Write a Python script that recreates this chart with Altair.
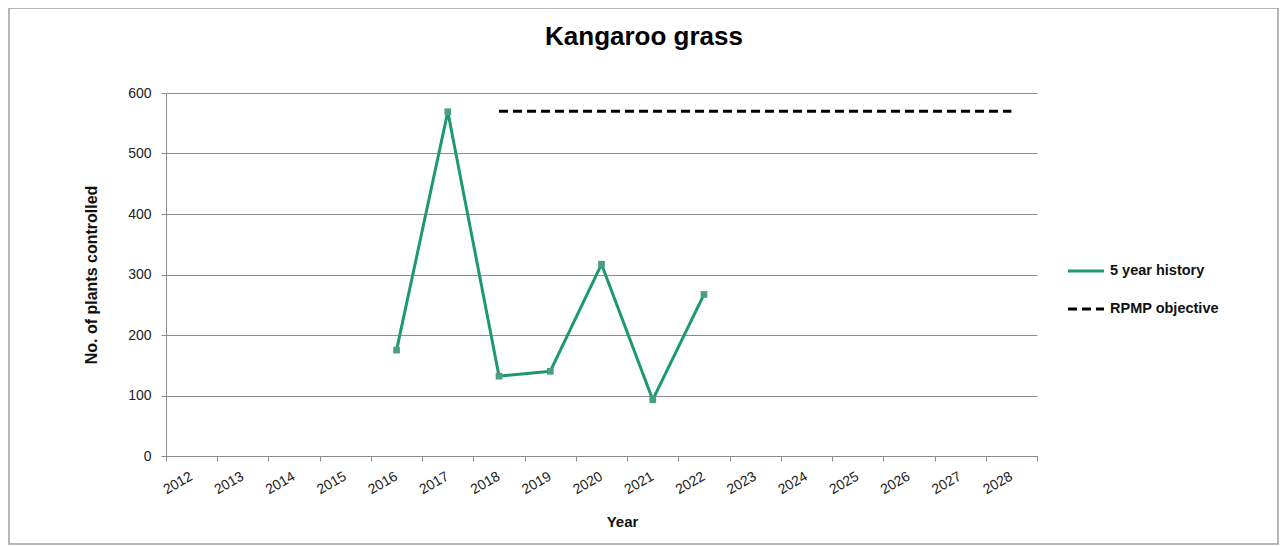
import altair as alt
import pandas as pd

# ---- data ----
all_years = [str(y) for y in range(2012, 2029)]
history_years = ["2016", "2017", "2018", "2019", "2020", "2021", "2022"]
history_values = [175, 569, 132, 140, 317, 93, 267]
objective_years = ["2018", "2019", "2020", "2021", "2022", "2023", "2024", "2025", "2026", "2027", "2028"]
objective_values = [570] * len(objective_years)
series_names = ["5 year history", "RPMP objective"]
chart_title = "Kangaroo grass"

hist_df = pd.DataFrame({"year": history_years, "value": history_values, "series": series_names[0]})
obj_df = pd.DataFrame({"year": objective_years, "value": objective_values, "series": series_names[1]})

W, H = 871, 363
GREEN = "#1d9a6c"
GRID = "#8c8c8c"
FONT = "Liberation Sans"

x_enc = alt.X(
    "year:O",
    bandPosition=0.5,
    scale=alt.Scale(type="band", domain=all_years, paddingInner=0, paddingOuter=0),
    axis=alt.Axis(
        title="Year",
        labelAngle=-30,
        tickBand="extent",
        tickSize=5,
        tickColor=GRID,
        domainColor=GRID,
        labelPadding=8,
        labelOffset=-4,
        titlePadding=18,
        titleX=456,
        grid=False,
    ),
)
y_enc = alt.Y(
    "value:Q",
    scale=alt.Scale(domain=[0, 600]),
    axis=alt.Axis(
        title="No. of plants controlled",
        values=[0, 100, 200, 300, 400, 500, 600],
        tickSize=5,
        tickColor=GRID,
        domainColor=GRID,
        gridColor=GRID,
        gridWidth=1,
        labelPadding=10,
        titlePadding=28,
        titleFontSize=16,
    ),
)
color_enc = alt.Color(
    "series:N",
    scale=alt.Scale(domain=series_names, range=[GREEN, "#000000"]),
    legend=alt.Legend(
        title=None,
        orient="none",
        legendX=900,
        legendY=158,
        symbolType="stroke",
        symbolSize=1300,
        symbolStrokeWidth=3,
        labelFontSize=14.5,
        labelFontWeight="bold",
        labelFont=FONT,
        labelColor="#111111",
        rowPadding=11,
        labelOffset=4,
    ),
)
dash_enc = alt.StrokeDash(
    "series:N",
    scale=alt.Scale(domain=series_names, range=[[1, 0], [9, 5]]),
    legend=alt.Legend(title=None, orient="none", legendX=900, legendY=158),
)

hist_line = alt.Chart(hist_df).mark_line(strokeWidth=3).encode(
    x=x_enc, y=y_enc, color=color_enc, strokeDash=dash_enc
)
hist_pts = alt.Chart(hist_df).mark_point(
    shape="square", filled=True, size=45, color="#4c9e80", opacity=1
).encode(x=x_enc, y=y_enc)
obj_line = alt.Chart(obj_df).mark_line(strokeWidth=3).encode(
    x=x_enc, y=y_enc, color=color_enc, strokeDash=dash_enc
)
one = pd.DataFrame({"a": [0]})
border = alt.Chart(one).mark_rect(
    filled=False, stroke="#a0a0a0", strokeWidth=1.5
).encode(
    x=alt.value(-157), x2=alt.value(1112), y=alt.value(-85), y2=alt.value(451)
)
title_text = alt.Chart(one).mark_text(
    text=chart_title, font=FONT, fontSize=26, fontWeight="bold", color="#000000",
    align="center", baseline="middle",
).encode(x=alt.value(478), y=alt.value(-56))

chart = (
    alt.layer(hist_line, obj_line, hist_pts, border, title_text)
    .properties(
        width=W,
        height=H,
        background="white",
        padding={"left": 158, "top": 85, "right": 242, "bottom": 89},
        autosize=alt.AutoSizeParams(type="none"),
    )
    .configure_view(stroke=None)
    .configure_axis(
        labelFont=FONT, labelFontSize=14, labelColor="#222222",
        titleFont=FONT, titleFontSize=15, titleFontWeight="bold", titleColor="#111111",
    )
)

chart.save("out.html", embed_options={"renderer": "svg", "actions": False})
